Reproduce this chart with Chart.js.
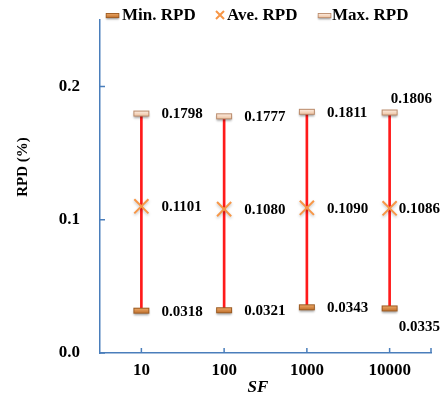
<!DOCTYPE html>
<html><head><meta charset="utf-8">
<script src="https://cdn.jsdelivr.net/npm/chart.js@4"></script>
<style>html,body{margin:0;padding:0;background:#fff}</style>
</head><body>
<canvas id="c" width="443" height="401"></canvas>
<script>
const categories = ['10', '100', '1000', '10000'];
const minRPD = [0.0318, 0.0321, 0.0343, 0.0335];
const aveRPD = [0.1101, 0.1080, 0.1090, 0.1086];
const maxRPD = [0.1798, 0.1777, 0.1811, 0.1806];
const yTickValues = [0.0, 0.1, 0.2];
const seriesNames = ['Min. RPD', 'Ave. RPD', 'Max. RPD'];
const yTitle = 'RPD (%)';
const xTitle = 'SF';

const F = '"Liberation Serif", "Times New Roman", serif';
const AXIS = '#4a7ebb';
const AVE = '#f79646';

function barMarker(top, bot, stroke) {
  const c = document.createElement('canvas');
  c.width = 20; c.height = 14;
  const g = c.getContext('2d');
  g.shadowColor = 'rgba(0,0,0,0.35)'; g.shadowBlur = 2; g.shadowOffsetY = 2;
  const gr = g.createLinearGradient(0, 4.5, 0, 9.5);
  gr.addColorStop(0, top); gr.addColorStop(1, bot);
  g.fillStyle = gr; g.fillRect(2.5, 4.5, 15, 5);
  g.shadowColor = 'transparent';
  g.strokeStyle = stroke; g.lineWidth = 1; g.strokeRect(2.5, 4.5, 15, 5);
  return c;
}
const minImg = barMarker('#eeaa68', '#c0702c', '#9a5a22');
const maxImg = barMarker('#fdeee2', '#eec2a0', '#b98a6a');

// label offsets (style, per index) relative to the marker
const labelOffsets = {
  min: [[20, 1], [20, 1], [20, 1], [9, 19]],
  ave: [[20, 1], [20, 1], [20, 1], [9, 1]],
  max: [[20, 1], [20, 1], [20, 1], [1, -13]]
};

const extras = {
  id: 'extras',
  beforeDatasetDraw(chart, args) {
    if (args.index === 2) {
      const ctx = chart.ctx; ctx.save();
      ctx.shadowColor = 'rgba(0,0,0,0.25)'; ctx.shadowBlur = 3; ctx.shadowOffsetY = 1.5;
    }
  },
  afterDatasetDraw(chart, args) {
    if (args.index === 2) chart.ctx.restore();
  },
  afterDraw(chart) {
    const ctx = chart.ctx, a = chart.chartArea;
    const xs = chart.scales.x, ys = chart.scales.y;
    ctx.save();
    // inward tick marks
    ctx.strokeStyle = AXIS; ctx.lineWidth = 1.5;
    ctx.beginPath();
    yTickValues.forEach(v => { const p = ys.getPixelForValue(v); ctx.moveTo(a.left, p); ctx.lineTo(a.left + 5, p); });
    categories.forEach((c, i) => { const p = xs.getPixelForValue(i); ctx.moveTo(p, a.bottom); ctx.lineTo(p, a.bottom - 5); });
    ctx.moveTo(a.right, a.bottom); ctx.lineTo(a.right, a.bottom - 5);
    ctx.stroke();
    // data labels
    ctx.fillStyle = '#000'; ctx.font = 'bold 15px ' + F;
    ctx.textAlign = 'left'; ctx.textBaseline = 'middle';
    const groups = [['min', 1, minRPD], ['ave', 2, aveRPD], ['max', 3, maxRPD]];
    groups.forEach(([k, di, vals]) => {
      const meta = chart.getDatasetMeta(di);
      meta.data.forEach((pt, i) => {
        const o = labelOffsets[k][i];
        ctx.fillText(vals[i].toFixed(4), pt.x + o[0], pt.y + o[1]);
      });
    });
    // axis titles
    ctx.font = 'bold 15px ' + F; ctx.textAlign = 'center';
    ctx.save(); ctx.translate(23, 167); ctx.rotate(-Math.PI / 2); ctx.fillText(yTitle, 0, 0); ctx.restore();
    ctx.font = 'italic bold 17px ' + F;
    ctx.fillText(xTitle, 258, 388);
    // legend
    ctx.font = 'bold 17px ' + F; ctx.textAlign = 'left';
    const ly = 16;
    ctx.drawImage(minImg, 104, ly - 6.5, 17, 12);
    ctx.fillText(seriesNames[0], 122, ly);
    ctx.strokeStyle = AVE; ctx.lineWidth = 2;
    ctx.beginPath();
    ctx.moveTo(216, ly - 5); ctx.lineTo(224, ly + 3); ctx.moveTo(224, ly - 5); ctx.lineTo(216, ly + 3);
    ctx.stroke();
    ctx.fillText(seriesNames[1], 227, ly);
    ctx.drawImage(maxImg, 316, ly - 6.5, 17, 12);
    ctx.fillText(seriesNames[2], 332, ly);
    ctx.restore();
  }
};

new Chart(document.getElementById('c'), {
  type: 'bar',
  data: {
    labels: categories,
    datasets: [
      { type: 'bar', label: 'range', data: minRPD.map((m, i) => [m, maxRPD[i]]),
        backgroundColor: '#ff1a1a', borderWidth: 0, barThickness: 2, order: 5 },
      { type: 'line', label: seriesNames[0], data: minRPD, showLine: false,
        pointStyle: minImg, pointRadius: 7, order: 1 },
      { type: 'line', label: seriesNames[1], data: aveRPD, showLine: false,
        pointStyle: 'crossRot', pointRadius: 10, pointBorderColor: AVE, pointBorderWidth: 2, borderColor: AVE, order: 1 },
      { type: 'line', label: seriesNames[2], data: maxRPD, showLine: false,
        pointStyle: maxImg, pointRadius: 7, order: 1 }
    ]
  },
  options: {
    responsive: false, animation: false,
    layout: { padding: { top: 20, right: 12, left: 0, bottom: 0 } },
    plugins: { legend: { display: false }, tooltip: { enabled: false } },
    scales: {
      x: {
        type: 'category', offset: true,
        grid: { display: false, drawTicks: false },
        border: { color: AXIS, width: 1.5 },
        ticks: { color: '#000', font: { family: F, size: 17, weight: 'bold' }, padding: 7 },
        afterFit(s) { s.height = 48; s.paddingLeft = 0; s.paddingRight = 0; }
      },
      y: {
        min: 0, max: 0.25,
        grid: { display: false, drawTicks: false },
        border: { color: AXIS, width: 1.5 },
        afterBuildTicks(s) { s.ticks = yTickValues.map(v => ({ value: v })); },
        ticks: { color: '#000', font: { family: F, size: 17, weight: 'bold' }, padding: 20,
          callback: v => Number(v).toFixed(1) },
        afterFit(s) { s.width = 100; s.paddingTop = 0; s.paddingBottom = 0; }
      }
    }
  },
  plugins: [extras]
});
</script>
</body></html>
